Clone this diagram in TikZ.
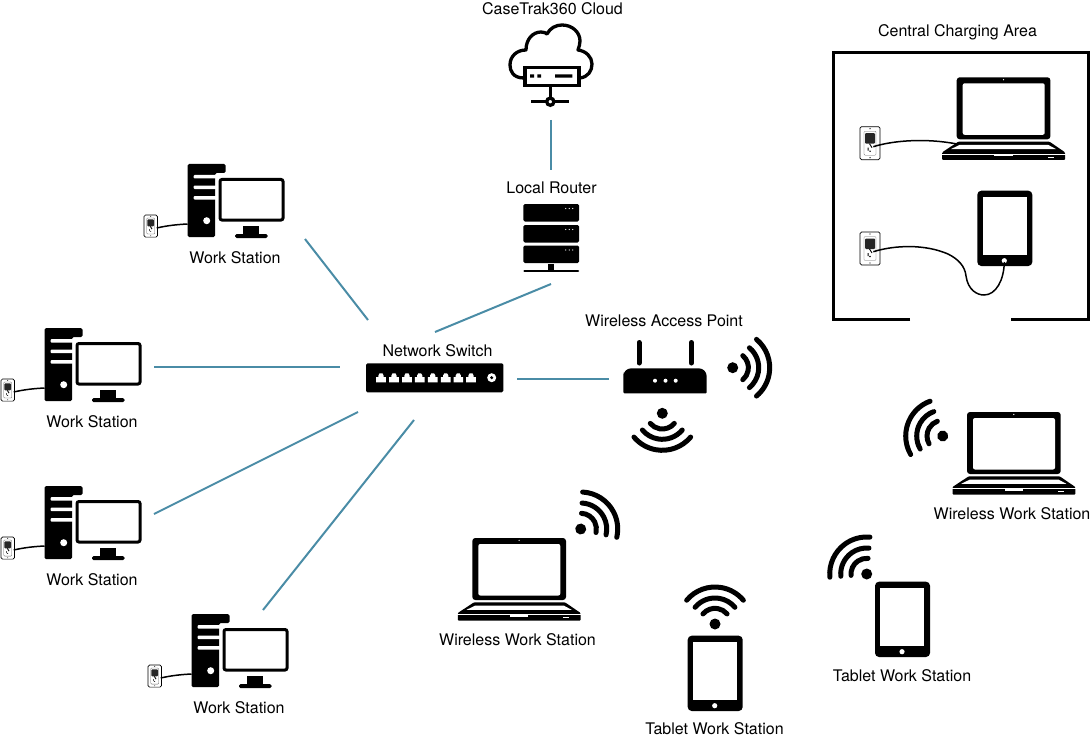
\documentclass[tikz,border=0pt]{standalone}
\usepackage{fontspec}
\setmainfont{TeX Gyre Heros}
\usetikzlibrary{
    arrows.meta,
    calc,
}
\definecolor{linkteal}{HTML}{4A8CA6}
\tikzset{
    link/.style={draw=linkteal, line width=2pt},
    caption/.style={font=\fontsize{16}{18}\selectfont, inner sep=0pt, yshift=-.5pt},
    cord/.style={draw=black, line width=1.5pt},
    wifi/.pic={
        \fill (0,0) circle (5.5);
        \foreach \r in {15.7,26,37}
            \draw[line width=5pt, line cap=round] (220:\r) arc (220:320:\r);
    },
    outlet/.pic={
        \draw[line width=.7pt, fill=white, rounded corners=1.5] (0,0) rectangle (20,33);
        \draw[line width=.3pt, draw=black!60, rounded corners=1] (4,4.5) rectangle (16,28.5);
        \fill[black!85, rounded corners=1] (5,6.5) rectangle (15,17);
        \draw[line width=.9pt] (9.5,17) -- (12,21);
        \fill (10,2) circle (.7) (10,31) circle (.7);
        \fill (7.5,21) rectangle (8.5,24) (10,24.5) circle (.8);
    },
    laptop/.pic={
        \fill[rounded corners=3] (0,0) rectangle (93.7,62);
        \fill[white, rounded corners=2] (6,6) rectangle (88,57.5);
        \fill[white] (46.8,2.4) circle (.7);
        \fill[rounded corners=1] (1.7,64.3) -- (92.7,64.3) -- (108.3,75) -- (108.3,82.7)
            -- (-14.5,82.7) -- (-14.5,75) -- cycle;
        \fill[white] (3,67.5) -- (91.3,67.5) -- (99.3,71.8) -- (-5.7,71.8) -- cycle;
        \fill[white] (-15,76.4) rectangle (109,77.2);
        \fill[white] (37.7,76.6) rectangle (56,79.2);
        \fill[white] (91,79.4) rectangle (97,80.2);
    },
    tablet/.pic={
        \fill[rounded corners=4] (0,0) rectangle (55,75.3);
        \fill[white] (5.4,6) rectangle (49.4,64.3);
        \fill[white] (27,70) circle (2.6);
    },
    workstation/.pic={
        \fill[rounded corners=1.5] (0,0) -- (38,0) -- (38,9) -- (27.5,9) -- (27.5,73) -- (0,73) -- cycle;
        \fill[white, rounded corners=1] (6,11) rectangle (29,14.5);
        \fill[white, rounded corners=1] (6,21.5) rectangle (29,25);
        \fill[white, rounded corners=1] (6,32) rectangle (29,35.5);
        \fill[white] (19.2,56.7) circle (3.5);
        \draw[white, line width=7pt] (32.5,15.5) rectangle (95.5,56);
        \draw[line width=3pt, fill=white, rounded corners=2] (32.5,15.5) rectangle (95.5,56);
        \fill (55.5,62) rectangle (71,70);
        \fill[rounded corners=1.5] (47.5,70) rectangle (80,74);
        \pic[scale=.67] at (-43.5,51) {outlet};
        \draw[cord] (-30.8,64) .. controls (-20,61.5) and (-10,60.5) .. (0,60);
    },
}
\begin{document}
\begin{tikzpicture}[x=1pt, y=-1pt]
        \useasboundingbox (0,0) rectangle (1091,738);

        % cloud
        \node[caption] (cloudlabel) at (552.5,8) {CaseTrak360 Cloud};
        \draw[line width=3.3pt, line join=round] (524,78)
            .. controls (513,78) and (510,71) .. (510,65)
            .. controls (510,56) and (517,50) .. (526,50)
            .. controls (526,39) and (533,32) .. (541,32)
            .. controls (544,32) and (546,33) .. (547,34)
            .. controls (550,28) and (556,25) .. (562,25)
            .. controls (572,25) and (580,32) .. (580,41)
            .. controls (580,44) and (579,47) .. (578,50)
            .. controls (586,51) and (592,57) .. (592,64)
            .. controls (592,71) and (588,77) .. (580,78);
        \draw[line width=3.3pt, fill=white] (525,67.5) rectangle (579,85.5);
        \fill (530,74.3) rectangle (534,77.7) (537.3,74.3) rectangle (541,77.7) (555,74.3) rectangle (572.3,77.7);
        \draw[line width=3.3pt] (550.3,85.5) -- (550.3,101.7) (531,101.7) -- (569,101.7);
        \draw[line width=3.3pt, fill=white] (550.3,101.7) circle (3.6);

        % router
        \node[caption] (routerlabel) at (551.5,187) {Local Router};
        \foreach \y in {204,225,245.5} {
            \fill[rounded corners=1.5] (523.3,\y) rectangle (579,\y+17.5);
            \foreach \x in {565.7,569.2,572.7}
                \fill[white] (\x,\y+4.5) circle (.7);
        }
        \fill (548.3,264) rectangle (554,270);
        \draw[line width=2.5pt, line cap=round] (524.5,271) -- (578,271);

        % switch
        \node[caption] (switchlabel) at (437.5,350) {Network Switch};
        \fill[rounded corners=1.5] (366,363.3) rectangle (503.3,392.3);
        \foreach \x in {381,394,407,419.7,432.7,445.7,458.3,471}
            \fill[white] (\x-4.8,382.3) -- (\x-4.8,377) -- (\x-2.6,377) -- (\x-2.6,375.5) -- (\x-1.4,373.3)
                -- (\x+1.4,373.3) -- (\x+2.6,375.5) -- (\x+2.6,377) -- (\x+4.8,377) -- (\x+4.8,382.3) -- cycle;
        \fill[white] (491.7,377.7) circle (4.5);
        \fill (491.7,377.7) circle (1.7);

        % access point
        \node[caption] (aplabel) at (664,320) {Wireless Access Point};
        \fill[rounded corners=8] (665,368.3) -- (623.3,368.3) -- (623.3,380)
            [rounded corners=1] -- (623.3,393.3) -- (706.7,393.3) -- (706.7,380)
            [rounded corners=8] -- (706.7,368.3) -- cycle;
        \foreach \x in {655,665.5,675.7}
            \fill[white] (\x,380.7) circle (2);
        \draw[line width=5pt, line cap=round] (639,342.5) -- (639,363) (691.3,342.5) -- (691.3,363);
        \pic[rotate=-90] at (732.7,367.7) {wifi};
        \pic[rotate=180] at (662.3,413.3) {wifi};

        % stations
        \pic at (187.5,164) {workstation};
        \node[caption] (wsa) at (235,257) {Work Station};
        \pic at (44.5,328) {workstation};
        \node[caption] (wsb) at (92,421) {Work Station};
        \pic at (44.5,486) {workstation};
        \node[caption] (wsc) at (92,579) {Work Station};
        \pic at (191.5,614) {workstation};
        \node[caption] (wsd) at (239,707) {Work Station};

        \pic at (472.3,538) {laptop};
        \pic[rotate=-53] at (580.7,529) {wifi};
        \node[caption] (wla) at (517.5,639) {Wireless Work Station};
        \pic at (967,412) {laptop};
        \pic[rotate=70] at (942.7,436) {wifi};
        \node[caption] (wlb) at (1012,513) {Wireless Work Station};

        \pic at (687.7,635.7) {tablet};
        \pic at (715,624) {wifi};
        \node[caption] (tablab) at (714.5,728) {Tablet Work Station};
        \pic at (875,581.7) {tablet};
        \pic[rotate=45] at (866.7,574) {wifi};
        \node[caption] (tablb) at (902,675) {Tablet Work Station};

        % charging area
        \node[caption] (arealabel) at (957.5,32) {Central Charging Area};
        \draw[line width=3pt] (910,319.5) -- (833,319.5) -- (833,53) -- (1088.3,53) -- (1088.3,319.5) -- (1011,319.5);
        \pic at (956.7,77.3) {laptop};
        \pic at (860,126.7) {outlet};
        \draw[cord] (873.3,146.7) .. controls (888,142) and (920,137) .. (957,144);
        \pic at (977.3,190.7) {tablet};
        \pic at (860,232) {outlet};
        \draw[cord] (873.3,251.7) .. controls (895,245) and (925,244) .. (948,254)
            .. controls (958,259) and (965,266) .. (966,276)
            .. controls (968,290) and (977,295) .. (984,295)
            .. controls (996,295) and (1004,280) .. (1004.3,262);

        % links
        \coordinate (cloudend) at (551,120);
        \coordinate (routertop) at (551,170);
        \coordinate (routerend) at (551,284);
        \coordinate (switcha) at (435,332);
        \coordinate (wsaend) at (305,239);
        \coordinate (switchb) at (368,320);
        \coordinate (wsbend) at (154,367);
        \coordinate (switchc) at (340,367);
        \coordinate (wscend) at (154,514);
        \coordinate (switchd) at (358,412);
        \coordinate (wsdend) at (263,610);
        \coordinate (switche) at (414,420);
        \coordinate (switchf) at (517,379);
        \coordinate (apend) at (609,379);
        \draw[link] (cloudend) -- (routertop);
        \draw[link] (routerend) -- (switcha);
        \draw[link] (wsaend) -- (switchb);
        \draw[link] (wsbend) -- (switchc);
        \draw[link] (wscend) -- (switchd);
        \draw[link] (wsdend) -- (switche);
        \draw[link] (switchf) -- (apend);
    \end{tikzpicture}
\end{document}
